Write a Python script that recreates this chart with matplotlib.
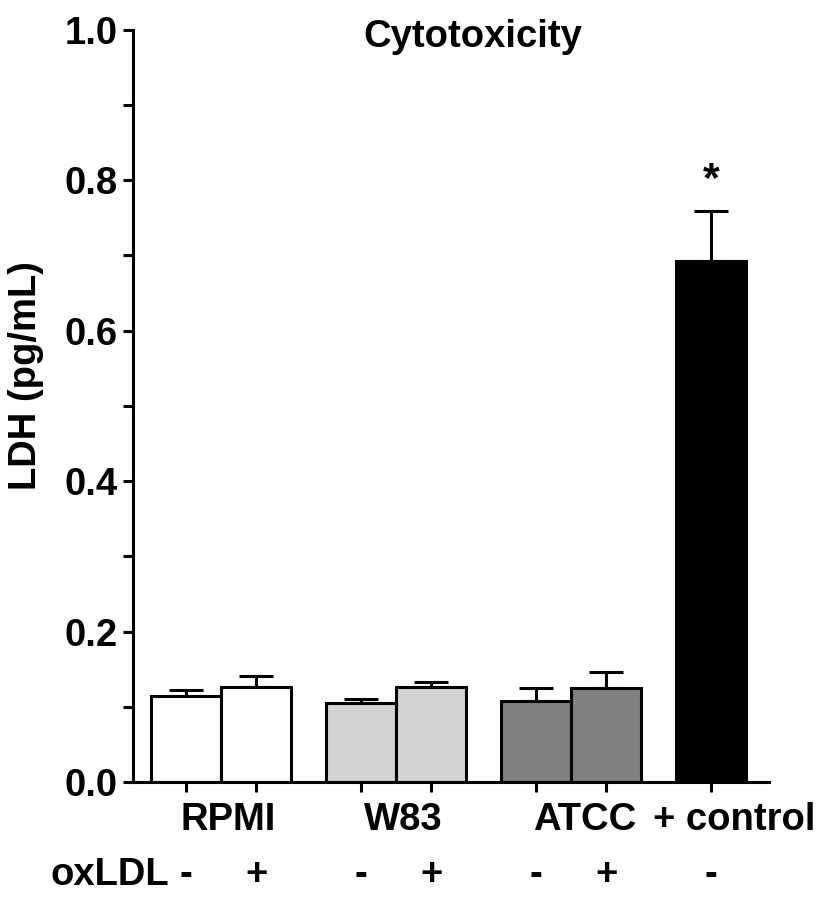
import matplotlib.pyplot as plt
import numpy as np

plt.rcParams['font.family'] = ['Liberation Sans', 'DejaVu Sans']
plt.rcParams['font.weight'] = 'bold'

# values
groups = ["RPMI", "W83", "ATCC", "+ control"]
oxldl = ["-", "+", "-", "+", "-", "+", "-"]
ldh = [0.114, 0.126, 0.105, 0.126, 0.108, 0.125, 0.692]
err = [0.008, 0.015, 0.005, 0.007, 0.017, 0.021, 0.067]
colors = ["white", "white", "#d3d3d3", "#d3d3d3", "#808080", "#808080", "black"]

xpos = np.array([0, 1, 2.5, 3.5, 5, 6, 7.5])
group_x = [0.5, 3.0, 5.5, 7.5]
fs = 27.5

fig = plt.figure(figsize=(8.27, 8.99), dpi=100)
ax = fig.add_axes([0.161, 0.130, 0.769, 0.837])

ax.bar(xpos, ldh, width=1.0, color=colors, edgecolor="black", linewidth=2.2, zorder=2)
ax.errorbar(xpos, ldh, yerr=[np.zeros(len(err)), err], fmt="none", ecolor="black",
            elinewidth=2.2, capsize=12, capthick=2.2, zorder=1)

ax.text(7.5, 0.80, "*", ha="center", va="center", fontsize=31, fontweight="bold")
ax.text(4.1, 0.99, "Cytotoxicity", ha="center", va="center", fontsize=fs, fontweight="bold")

ax.set_xlim(-0.757, 8.33)
ax.set_ylim(0, 1.0)
ax.set_yticks(np.arange(0, 1.01, 0.2))
ax.set_yticks(np.arange(0.1, 1.0, 0.2), minor=True)
ax.set_yticklabels(["%.1f" % v for v in np.arange(0, 1.01, 0.2)], fontsize=fs, fontweight="bold")
ax.set_xticks(xpos)
ax.set_xticklabels([])
ax.tick_params(axis="y", which="both", direction="out", length=7, width=2.2, pad=4)
ax.tick_params(axis="x", direction="out", length=7, width=2.2)
ax.set_ylabel("LDH (pg/mL)", fontsize=fs, fontweight="bold")
ax.yaxis.set_label_coords(-0.14, 0.54)

for s in ["top", "right"]:
    ax.spines[s].set_visible(False)
for s in ["left", "bottom"]:
    ax.spines[s].set_linewidth(2.2)

tr = ax.get_xaxis_transform()
for gx, g in zip(group_x, groups):
    off = 0.33 if g == "+ control" else 0.1
    if g == "ATCC":
        off = 0.2
    ax.text(gx + off, -0.027, g, transform=tr, ha="center", va="top", fontsize=fs, fontweight="bold")
for x, s in zip(xpos, oxldl):
    ax.text(x, -0.1, s, transform=tr, ha="center", va="top", fontsize=fs, fontweight="bold")
ax.text(-0.25, -0.1, "oxLDL", transform=tr, ha="right", va="top", fontsize=fs, fontweight="bold")

fig.savefig("out.png", dpi=100)
